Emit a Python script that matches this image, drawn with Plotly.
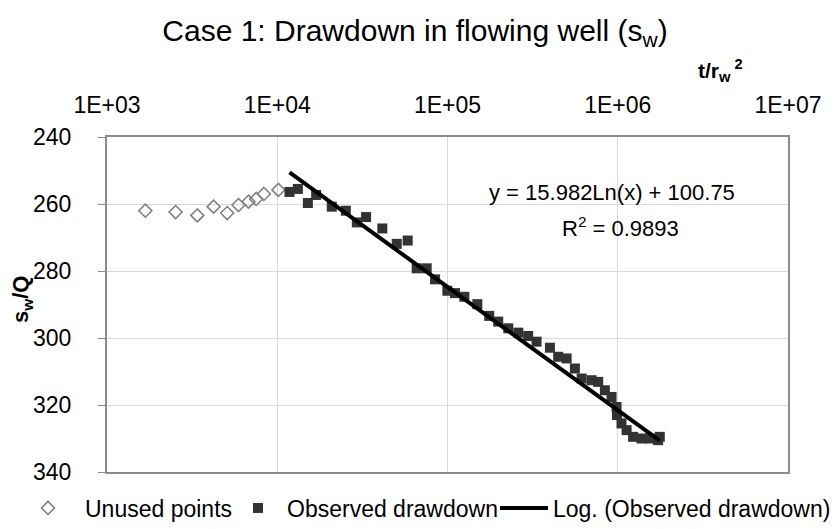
import numpy as np
import plotly.graph_objects as go

# ---- data ----
unused_x = [1680, 2530, 3390, 4230, 5080, 5920, 6780, 7520, 8340, 10160]
unused_y = [262.0, 262.4, 263.4, 260.8, 262.7, 260.3, 259.3, 258.5, 257.0, 255.8]

obs_x = [11800, 13220, 15130, 16920, 20900, 25280, 29330, 33260, 41420, 50330,
         58350, 65920, 75480, 84520, 99800, 110700, 125600, 149700, 175900, 198600,
         227400, 260500, 297800, 333500, 399600, 446900, 500800, 560100, 613300, 702000,
         767600, 840100, 919600, 984000, 990000, 1052000, 1127000, 1231000, 1379000, 1543000,
         1726000, 1766000]
obs_y = [256.4, 255.5, 259.7, 257.3, 260.8, 262.0, 265.5, 263.9, 267.3, 271.9,
         270.9, 279.2, 279.2, 282.5, 285.9, 286.6, 287.7, 289.9, 293.4, 295.1,
         297.1, 298.4, 299.4, 301.1, 302.9, 305.6, 306.1, 309.1, 312.1, 312.6,
         313.1, 315.6, 317.6, 320.6, 323.0, 325.5, 327.5, 329.5, 330.0, 330.0,
         330.5, 329.5]

# logarithmic trendline coefficients as printed on the chart
trend_a = 15.982
trend_b = 100.75

x_tickvals = [1e3, 1e4, 1e5, 1e6, 1e7]
x_ticktext = ["1E+03", "1E+04", "1E+05", "1E+06", "1E+07"]
y_tickvals = [240, 260, 280, 300, 320, 340]

FONT = "Liberation Sans, Arial, sans-serif"

trend_x = np.sort(np.array(obs_x, dtype=float))
trend_y = trend_a * np.log(trend_x) + trend_b

fig = go.Figure()
fig.add_trace(go.Scatter(
    x=unused_x, y=unused_y, mode="markers", name="Unused points",
    marker=dict(symbol="diamond-open", size=10, color="#808080",
                line=dict(width=1.6, color="#808080")),
    legend="legend",
))
fig.add_trace(go.Scatter(
    x=obs_x, y=obs_y, mode="markers", name="Observed drawdown",
    marker=dict(symbol="square", size=10, color="#333333"),
    legend="legend2",
))
fig.add_trace(go.Scatter(
    x=trend_x, y=trend_y, mode="lines", name="Log. (Observed drawdown)",
    line=dict(color="#000000", width=4),
    legend="legend3",
))

W, H = 835, 529
L, R, T, B = 107, 47, 137, 57
pw = W - L - R
ph = H - T - B

def px(xp):
    return (xp - L) / pw

def py(yp):
    return (H - B - yp) / ph

legend_font = dict(size=23, family=FONT, color="black")

def leg(x0, iw):
    return dict(orientation="h", x=px(x0), xanchor="left",
                y=py(508), yanchor="middle", font=legend_font,
                itemwidth=iw, bgcolor="rgba(0,0,0,0)")

fig.update_layout(
    width=W, height=H,
    margin=dict(l=L, r=R, t=T, b=B, autoexpand=False),
    paper_bgcolor="white", plot_bgcolor="white",
    font=dict(family=FONT, size=22, color="black"),
    title=dict(text="Case 1: Drawdown in flowing well (s<sub>w</sub>)",
               x=0.497, xanchor="center", y=1 - 30 / H, yanchor="middle",
               font=dict(size=30, family=FONT, color="black")),
    xaxis=dict(type="log", side="top", range=[3, 7],
               tickvals=x_tickvals, ticktext=x_ticktext,
               showgrid=True, gridcolor="#d9d9d9", gridwidth=1,
               ticks="", ticklabelstandoff=13, automargin=False,
               showline=True, linecolor="#8c8c8c", linewidth=2, mirror=True,
               tickfont=dict(size=23, family=FONT, color="black"),
               zeroline=False),
    yaxis=dict(range=[340, 240], tickvals=y_tickvals,
               showgrid=True, gridcolor="#d9d9d9", gridwidth=1,
               ticks="outside", ticklen=7, tickcolor="#8c8c8c", tickwidth=1,
               ticklabelstandoff=22, automargin=False,
               showline=True, linecolor="#8c8c8c", linewidth=2, mirror=True,
               tickfont=dict(size=23, family=FONT, color="black"),
               zeroline=False),
    showlegend=True,
    legend=leg(11, 64),
    legend2=leg(229, 48),
    legend3=leg(495, 48),
)

fig.add_annotation(text="y = 15.982Ln(x) + 100.75", xref="paper", yref="paper",
                   x=px(612), y=py(192), xanchor="center", yanchor="middle",
                   showarrow=False, font=dict(size=22, family=FONT, color="black"))
fig.add_annotation(text="R<sup>2</sup> = 0.9893", xref="paper", yref="paper",
                   x=px(620), y=py(227), xanchor="center", yanchor="middle",
                   showarrow=False, font=dict(size=22, family=FONT, color="black"))
fig.add_annotation(text="<b>t/r<sub>w</sub><sup> 2</sup></b>", xref="paper", yref="paper",
                   x=px(720), y=py(70), xanchor="center", yanchor="middle",
                   showarrow=False, font=dict(size=21, family=FONT, color="black"))
fig.add_annotation(text="<b>s<sub>w</sub>/Q</b>", xref="paper", yref="paper",
                   x=px(22), y=py(300), xanchor="center", yanchor="middle",
                   textangle=-90,
                   showarrow=False, font=dict(size=22, family=FONT, color="black"))

fig.write_html("out.html")
